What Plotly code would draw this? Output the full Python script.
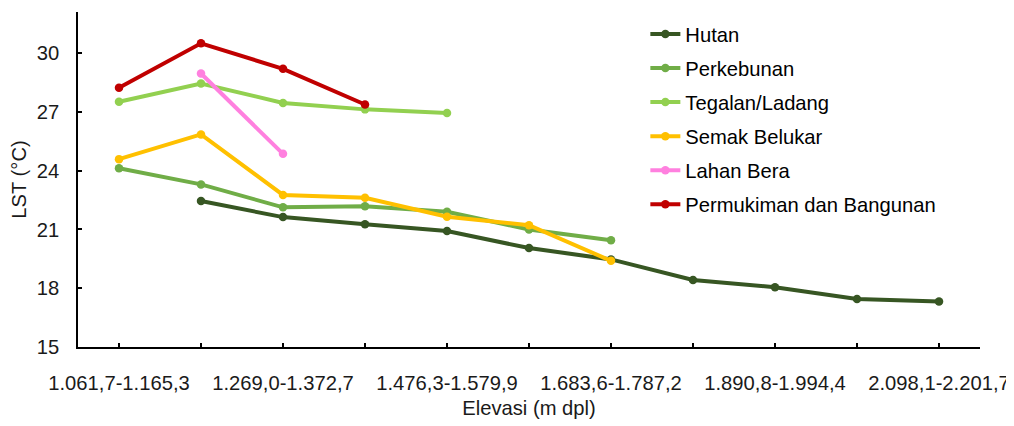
import plotly.graph_objects as go

categories = ["1.061,7-1.165,3", "1.165,3-1.269,0", "1.269,0-1.372,7", "1.372,7-1.476,3",
              "1.476,3-1.579,9", "1.579,9-1.683,6", "1.683,6-1.787,2", "1.787,2-1.890,8",
              "1.890,8-1.994,4", "1.994,4-2.098,1", "2.098,1-2.201,7"]
tick_text = [c if i % 2 == 0 else "" for i, c in enumerate(categories)]

hutan = [None, 22.45, 21.63, 21.27, 20.92, 20.05, 19.47, 18.42, 18.05, 17.45, 17.32]
perkebunan = [24.12, 23.3, 22.13, 22.19, 21.9, 21.0, 20.45, None, None, None, None]
tegalan = [27.52, 28.45, 27.46, 27.13, 26.94, None, None, None, None, None, None]
semak = [24.59, 25.85, 22.76, 22.62, 21.65, 21.22, 19.4, None, None, None, None]
lahan_bera = [None, 28.96, 24.86, None, None, None, None, None, None, None, None]
permukiman = [28.23, 30.5, 29.2, 27.38, None, None, None, None, None, None, None]

series = [
    ("Hutan", hutan, "#375623"),
    ("Perkebunan", perkebunan, "#70AD47"),
    ("Tegalan/Ladang", tegalan, "#92D050"),
    ("Semak Belukar", semak, "#FFC000"),
    ("Lahan Bera", lahan_bera, "#FF80DF"),
    ("Permukiman dan Bangunan", permukiman, "#C00000"),
]

fig = go.Figure()
for i, (name, vals, color) in enumerate(series):
    fig.add_trace(go.Scatter(
        x=categories, y=vals, name=name, mode="lines+markers",
        line=dict(color=color, width=4), marker=dict(color=color, size=8.5),
        legendgroup=f"g{i}", connectgaps=False,
    ))

font_family = "Liberation Sans, Arial, sans-serif"
fs = 20.2
fig.update_layout(
    width=1006, height=418,
    margin=dict(l=69, r=33, t=4, b=79),
    paper_bgcolor="white", plot_bgcolor="white",
    font=dict(family=font_family, size=fs, color="#1a1a1a"),
    showlegend=True,
    legend=dict(x=0.629, y=0.993, xanchor="left", yanchor="top",
                font=dict(size=fs, color="#000000"), tracegroupgap=4.8,
                bgcolor="rgba(0,0,0,0)", itemwidth=30),
    xaxis=dict(
        type="category", categoryorder="array", categoryarray=categories,
        range=[-0.5, 10.5], tickmode="array", tickvals=categories, ticktext=tick_text,
        showline=True, linecolor="#000000", linewidth=1.5,
        ticks="inside", ticklen=4, tickcolor="#000000", tickwidth=1.5,
        showgrid=False, zeroline=False, ticklabelstandoff=17,
        title=dict(text="Elevasi (m dpl)", standoff=8, font=dict(size=fs)),
        tickfont=dict(size=fs),
    ),
    yaxis=dict(
        range=[15, 32.1], tickvals=[15, 18, 21, 24, 27, 30],
        showline=True, linecolor="#000000", linewidth=1.5,
        ticks="inside", ticklen=4, tickcolor="#000000", tickwidth=1.5,
        showgrid=False, zeroline=False, ticklabelstandoff=13,
        title=dict(text="LST (°C)", standoff=11, font=dict(size=fs)),
        tickfont=dict(size=fs),
    ),
)

fig.write_html("out.html", config={"displayModeBar": False})
